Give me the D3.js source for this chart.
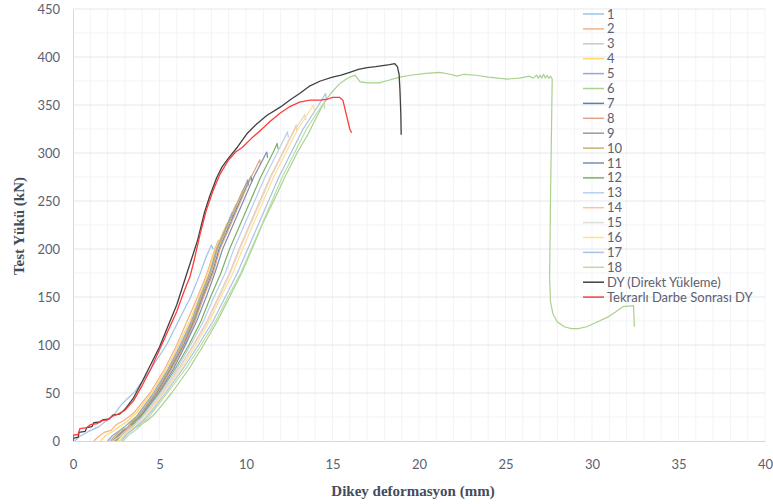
<!DOCTYPE html>
<html><head><meta charset="utf-8">
<script src="https://cdn.jsdelivr.net/npm/d3@7"></script>
<style>body{margin:0;background:#fff}svg{display:block}</style>
</head><body>
<svg id="c" width="773" height="504"></svg>
<script>
const categories = ["1","2","3","4","5","6","7","8","9","10","11","12","13","14","15","16","17","18","DY (Direkt Yükleme)","Tekrarlı Darbe Sonrası DY"];
const colors = ["#9dc3e6","#f4b183","#c9c9c9","#ffd966","#8faadc","#a9d18e","#5f7fa8","#e0a585","#9a9a9a","#c9b06e","#7b8fb0","#7fae62","#b4cff0","#f8c3a3","#dcdcdc","#ffe08f","#a8c0ea","#b8dea3","#404040","#ff3b3b"];
const xTicks = [0,5,10,15,20,25,30,35,40];
const yTicks = [0,50,100,150,200,250,300,350,400,450];

const s1 = [[0.1,0],[0.4,5],[0.9,10],[1.5,15],[2.0,22],[2.4,28],[2.8,38],[3.6,52],[4.5,75],[5.4,100],[6.1,125],[6.8,150],[7.3,172],[7.7,192],[8.0,204],[8.1,200]];
const s2 = [[1.2,0],[1.5,5],[1.8,9],[2.2,11],[2.5,17],[2.9,21],[3.3,26],[3.6,31],[4.45,50],[5.3,75],[6.0,100],[6.6,125],[7.2,150],[7.75,175],[8.2,200],[8.4,209],[8.45,204]];
const s3 = [[2.1,0],[2.4,5],[2.8,10],[3.1,13],[3.35,20],[3.6,24],[3.9,31],[4.7,50],[5.5,75],[6.25,100],[6.85,125],[7.4,150],[7.9,175],[8.3,200],[8.9,225],[9.4,246],[9.45,241]];
const s4 = [[1.6,0],[1.9,6],[2.3,10],[2.6,14],[3.1,20],[3.4,25],[3.7,30],[4.55,50],[5.4,75],[6.1,100],[6.75,125],[7.3,150],[7.8,175],[8.25,200],[8.85,225],[8.9,227],[8.95,221]];
const s5 = [[2.0,0],[2.3,6],[2.7,11],[3.0,15],[3.3,20],[3.7,26],[3.85,30],[4.65,50],[5.5,75],[6.2,100],[6.85,125],[7.35,150],[7.9,175],[8.3,200],[8.9,225],[9.2,238],[9.25,233]];
const s6 = [[2.6,0],[3.0,5],[3.3,11],[3.8,16],[4.35,22],[4.6,26],[4.9,32],[5.7,50],[6.7,75],[7.55,100],[8.35,125],[9.05,150],[9.75,175],[10.35,200],[11.0,228],[11.6,250],[12.25,275],[12.95,300],[13.6,320],[13.9,331],[14.5,352],[14.9,362],[15.4,372],[15.8,377],[16.0,379],[16.3,381],[16.6,374],[17.0,373],[17.7,373],[18.3,376],[18.9,379],[19.5,381],[20.4,383],[21.2,384],[21.8,382],[22.2,380],[22.6,382],[23.3,381],[24.0,379],[25.1,377],[25.8,378],[26.4,380],[26.6,378],[26.8,381],[26.9,378],[27.0,381],[27.1,378],[27.2,382],[27.3,378],[27.4,381],[27.5,378],[27.6,380],[27.7,377],[27.6,250],[27.55,168],[27.6,145],[27.75,132],[28.0,124],[28.4,119],[28.8,117],[29.2,117],[29.7,119],[30.3,124],[30.9,129],[31.4,135],[31.8,140],[32.4,141],[32.45,119]];
const s7 = [[2.4,0],[2.6,5],[2.9,11],[3.3,14],[3.5,20],[3.9,25],[4.05,30],[4.85,50],[5.65,75],[6.4,100],[7.0,125],[7.5,150],[8.05,175],[8.45,200],[9.05,225],[9.65,250],[10.3,276],[10.35,270]];
const s8 = [[2.3,0],[2.5,4],[2.8,9],[3.1,12],[3.4,16],[3.6,21],[3.9,26],[4.1,31],[4.9,50],[5.7,75],[6.45,100],[7.05,125],[7.55,150],[8.1,175],[8.5,200],[9.1,225],[9.7,250],[10.3,275],[10.8,293],[10.85,287]];
const s9 = [[2.3,0],[2.6,6],[2.9,10],[3.2,15],[3.5,21],[3.8,26],[4.0,31],[4.8,50],[5.6,75],[6.3,100],[6.95,125],[7.45,150],[7.95,175],[8.35,200],[8.95,225],[9.55,250],[10.1,272],[10.15,266]];
const s10 = [[2.2,0],[2.5,7],[2.8,12],[3.2,14],[3.4,21],[3.7,25],[3.95,30],[4.75,50],[5.55,75],[6.3,100],[6.9,125],[7.4,150],[7.95,175],[8.35,200],[8.95,225],[9.55,250],[9.8,261],[9.85,255]];
const s11 = [[2.5,0],[2.7,6],[3.0,10],[3.3,13],[3.6,20],[3.8,24],[4.1,30],[4.95,50],[5.8,75],[6.5,100],[7.15,125],[7.7,150],[8.2,175],[8.65,200],[9.25,225],[9.85,250],[10.45,275],[11.2,301],[11.25,295]];
const s12 = [[2.5,0],[2.8,7],[3.1,11],[3.4,16],[3.65,21],[3.9,25],[4.15,30],[5.0,50],[5.9,75],[6.7,100],[7.4,125],[7.95,150],[8.55,175],[9.05,200],[9.65,225],[10.25,250],[10.85,275],[11.55,300],[11.8,310],[11.85,304]];
const s13 = [[2.6,0],[2.9,6],[3.2,12],[3.5,15],[3.7,20],[4.0,25],[4.2,30],[5.05,50],[6.0,75],[6.8,100],[7.55,125],[8.15,150],[8.8,175],[9.3,200],[9.9,225],[10.5,250],[11.1,275],[11.8,300],[12.4,322],[12.45,316]];
const s14 = [[2.3,0],[2.7,5],[3.0,10],[3.3,14],[3.8,20],[4.1,26],[4.3,30],[5.15,50],[6.1,75],[6.95,100],[7.75,125],[8.4,150],[9.05,175],[9.6,200],[10.2,225],[10.8,250],[11.4,275],[12.1,300],[12.8,325],[12.9,329],[12.95,323]];
const s15 = [[2.7,0],[3.0,8],[3.3,12],[3.6,17],[3.85,21],[4.1,26],[4.35,30],[5.2,50],[6.15,75],[7.0,100],[7.8,125],[8.45,150],[9.1,175],[9.65,200],[10.25,225],[10.85,250],[11.45,275],[12.15,300],[12.85,325],[13.4,340],[13.45,334]];
const s16 = [[2.6,0],[2.9,5],[3.3,11],[3.6,15],[3.9,20],[4.2,25],[4.4,30],[5.25,50],[6.25,75],[7.1,100],[7.9,125],[8.55,150],[9.25,175],[9.8,200],[10.4,225],[11.0,250],[11.6,275],[12.3,300],[13.0,325],[13.9,350],[13.95,344]];
const s17 = [[2.8,0],[3.1,7],[3.4,11],[3.7,16],[4.0,20],[4.3,26],[4.5,30],[5.35,50],[6.35,75],[7.25,100],[8.1,125],[8.8,150],[9.5,175],[10.1,200],[10.7,225],[11.3,250],[11.9,275],[12.6,300],[13.3,325],[14.2,350],[14.6,362],[14.65,356]];
const s18 = [[2.9,0],[3.2,6],[3.5,10],[3.8,14],[4.1,20],[4.4,25],[4.6,30],[5.45,50],[6.5,75],[7.4,100],[8.25,125],[8.95,150],[9.7,175],[10.3,200],[10.9,225],[11.5,250],[12.1,275],[12.8,300],[13.5,325],[14.4,350],[14.5,352],[14.55,346]];
const sDY = [[0,0],[0.05,3],[0.3,4],[0.35,9],[0.7,10],[0.8,14],[1.1,15],[1.2,19],[1.6,20],[1.7,22],[2.1,23],[2.3,27],[2.7,28],[3.0,33],[3.5,45],[4.0,62],[4.5,80],[5.0,98],[5.5,120],[6.0,142],[6.5,170],[7.2,209],[7.6,238],[7.9,255],[8.3,274],[8.6,285],[9.0,295],[9.5,306],[10.05,320],[10.6,330],[11.2,339],[12.0,348],[12.6,356],[13.1,362],[13.7,370],[14.3,375],[15.0,379],[15.5,381],[16.0,384],[16.5,387],[17.0,389],[17.5,390],[17.9,391],[18.3,392],[18.6,393],[18.75,390],[18.85,382],[18.9,365],[18.95,340],[18.97,319]];
const sTD = [[0,0],[0.02,6],[0.3,7],[0.4,13],[0.8,14],[1.0,17],[1.4,18],[1.6,21],[2.0,22],[2.3,26],[2.6,28],[3.0,32],[3.5,42],[4.0,58],[4.5,75],[5.0,95],[5.5,115],[6.0,135],[6.4,155],[6.76,171],[7.0,188],[7.34,215],[7.7,240],[8.1,261],[8.5,278],[9.0,293],[9.4,301],[9.8,306],[10.3,315],[10.8,323],[11.4,333],[12.0,342],[12.5,348],[13.1,353],[13.7,355],[14.3,355],[14.7,356],[15.0,358],[15.4,358],[15.6,355],[15.8,340],[16.0,325],[16.1,321]];

const series = [s1,s2,s3,s4,s5,s6,s7,s8,s9,s10,s11,s12,s13,s14,s15,s16,s17,s18,sDY,sTD];

const svg = d3.select("#c");
const x = d3.scaleLinear().domain([0,40]).range([73,765]);
const y = d3.scaleLinear().domain([0,450]).range([441,9]);

// gridlines
const g = svg.append("g");
g.selectAll("line.vx").data(d3.range(1,41)).join("line")
  .attr("x1",d=>x(d)).attr("x2",d=>x(d)).attr("y1",y(0)).attr("y2",y(450))
  .attr("stroke","#f1f3f6").attr("stroke-width",1);
g.selectAll("line.hy").data(d3.range(25,451,25)).join("line")
  .attr("x1",x(0)).attr("x2",x(40)).attr("y1",d=>y(d)).attr("y2",d=>y(d))
  .attr("stroke",d=>d%50===0?"#e3e7ed":"#f1f3f6").attr("stroke-width",1);

// axes
const xAxis = svg.append("g").attr("transform",`translate(0,${y(0)})`)
  .call(d3.axisBottom(x).tickValues(xTicks).tickSize(0).tickPadding(19));
const yAxis = svg.append("g").attr("transform",`translate(${x(0)},0)`)
  .call(d3.axisLeft(y).tickValues(yTicks).tickSize(0).tickPadding(13));
[xAxis,yAxis].forEach(a=>{
  a.select(".domain").attr("stroke","#d3d9e1");
  a.selectAll("text").attr("font-family","Lato, 'Open Sans', sans-serif").attr("font-size",13).attr("fill","#5b6170");
});

// clip
svg.append("clipPath").attr("id","clip").append("rect").attr("x",x(0)).attr("y",y(450)).attr("width",x(40)-x(0)).attr("height",y(0)-y(450));

const line = d3.line().x(d=>x(d[0])).y(d=>y(d[1]));
const plot = svg.append("g").attr("clip-path","url(#clip)");
series.forEach((s,i)=>{
  plot.append("path").datum(s).attr("d",line).attr("fill","none")
    .attr("stroke",colors[i]).attr("stroke-width",i>=18?1.3:1.2).attr("stroke-linejoin","round");
});

// legend
const lg = svg.append("g");
categories.forEach((c,i)=>{
  const yy = 14 + i*14.9;
  lg.append("line").attr("x1",583).attr("x2",604).attr("y1",yy).attr("y2",yy).attr("stroke",colors[i]).attr("stroke-width",1.5);
  lg.append("text").attr("x",607).attr("y",yy).attr("dy","0.35em").text(c)
    .attr("font-family","Lato, 'Open Sans', sans-serif").attr("font-size",13).attr("fill","#5b6170");
});

// titles
svg.append("text").attr("x",413).attr("y",496).attr("text-anchor","middle")
  .attr("font-family","'Liberation Serif', serif").attr("font-weight","bold").attr("font-size",15).attr("fill","#444c5c")
  .text("Dikey deformasyon (mm)");
svg.append("text").attr("transform","translate(24,226) rotate(-90)").attr("text-anchor","middle")
  .attr("font-family","'Liberation Serif', serif").attr("font-weight","bold").attr("font-size",15).attr("fill","#444c5c")
  .text("Test Yükü (kN)");
</script>
</body></html>
